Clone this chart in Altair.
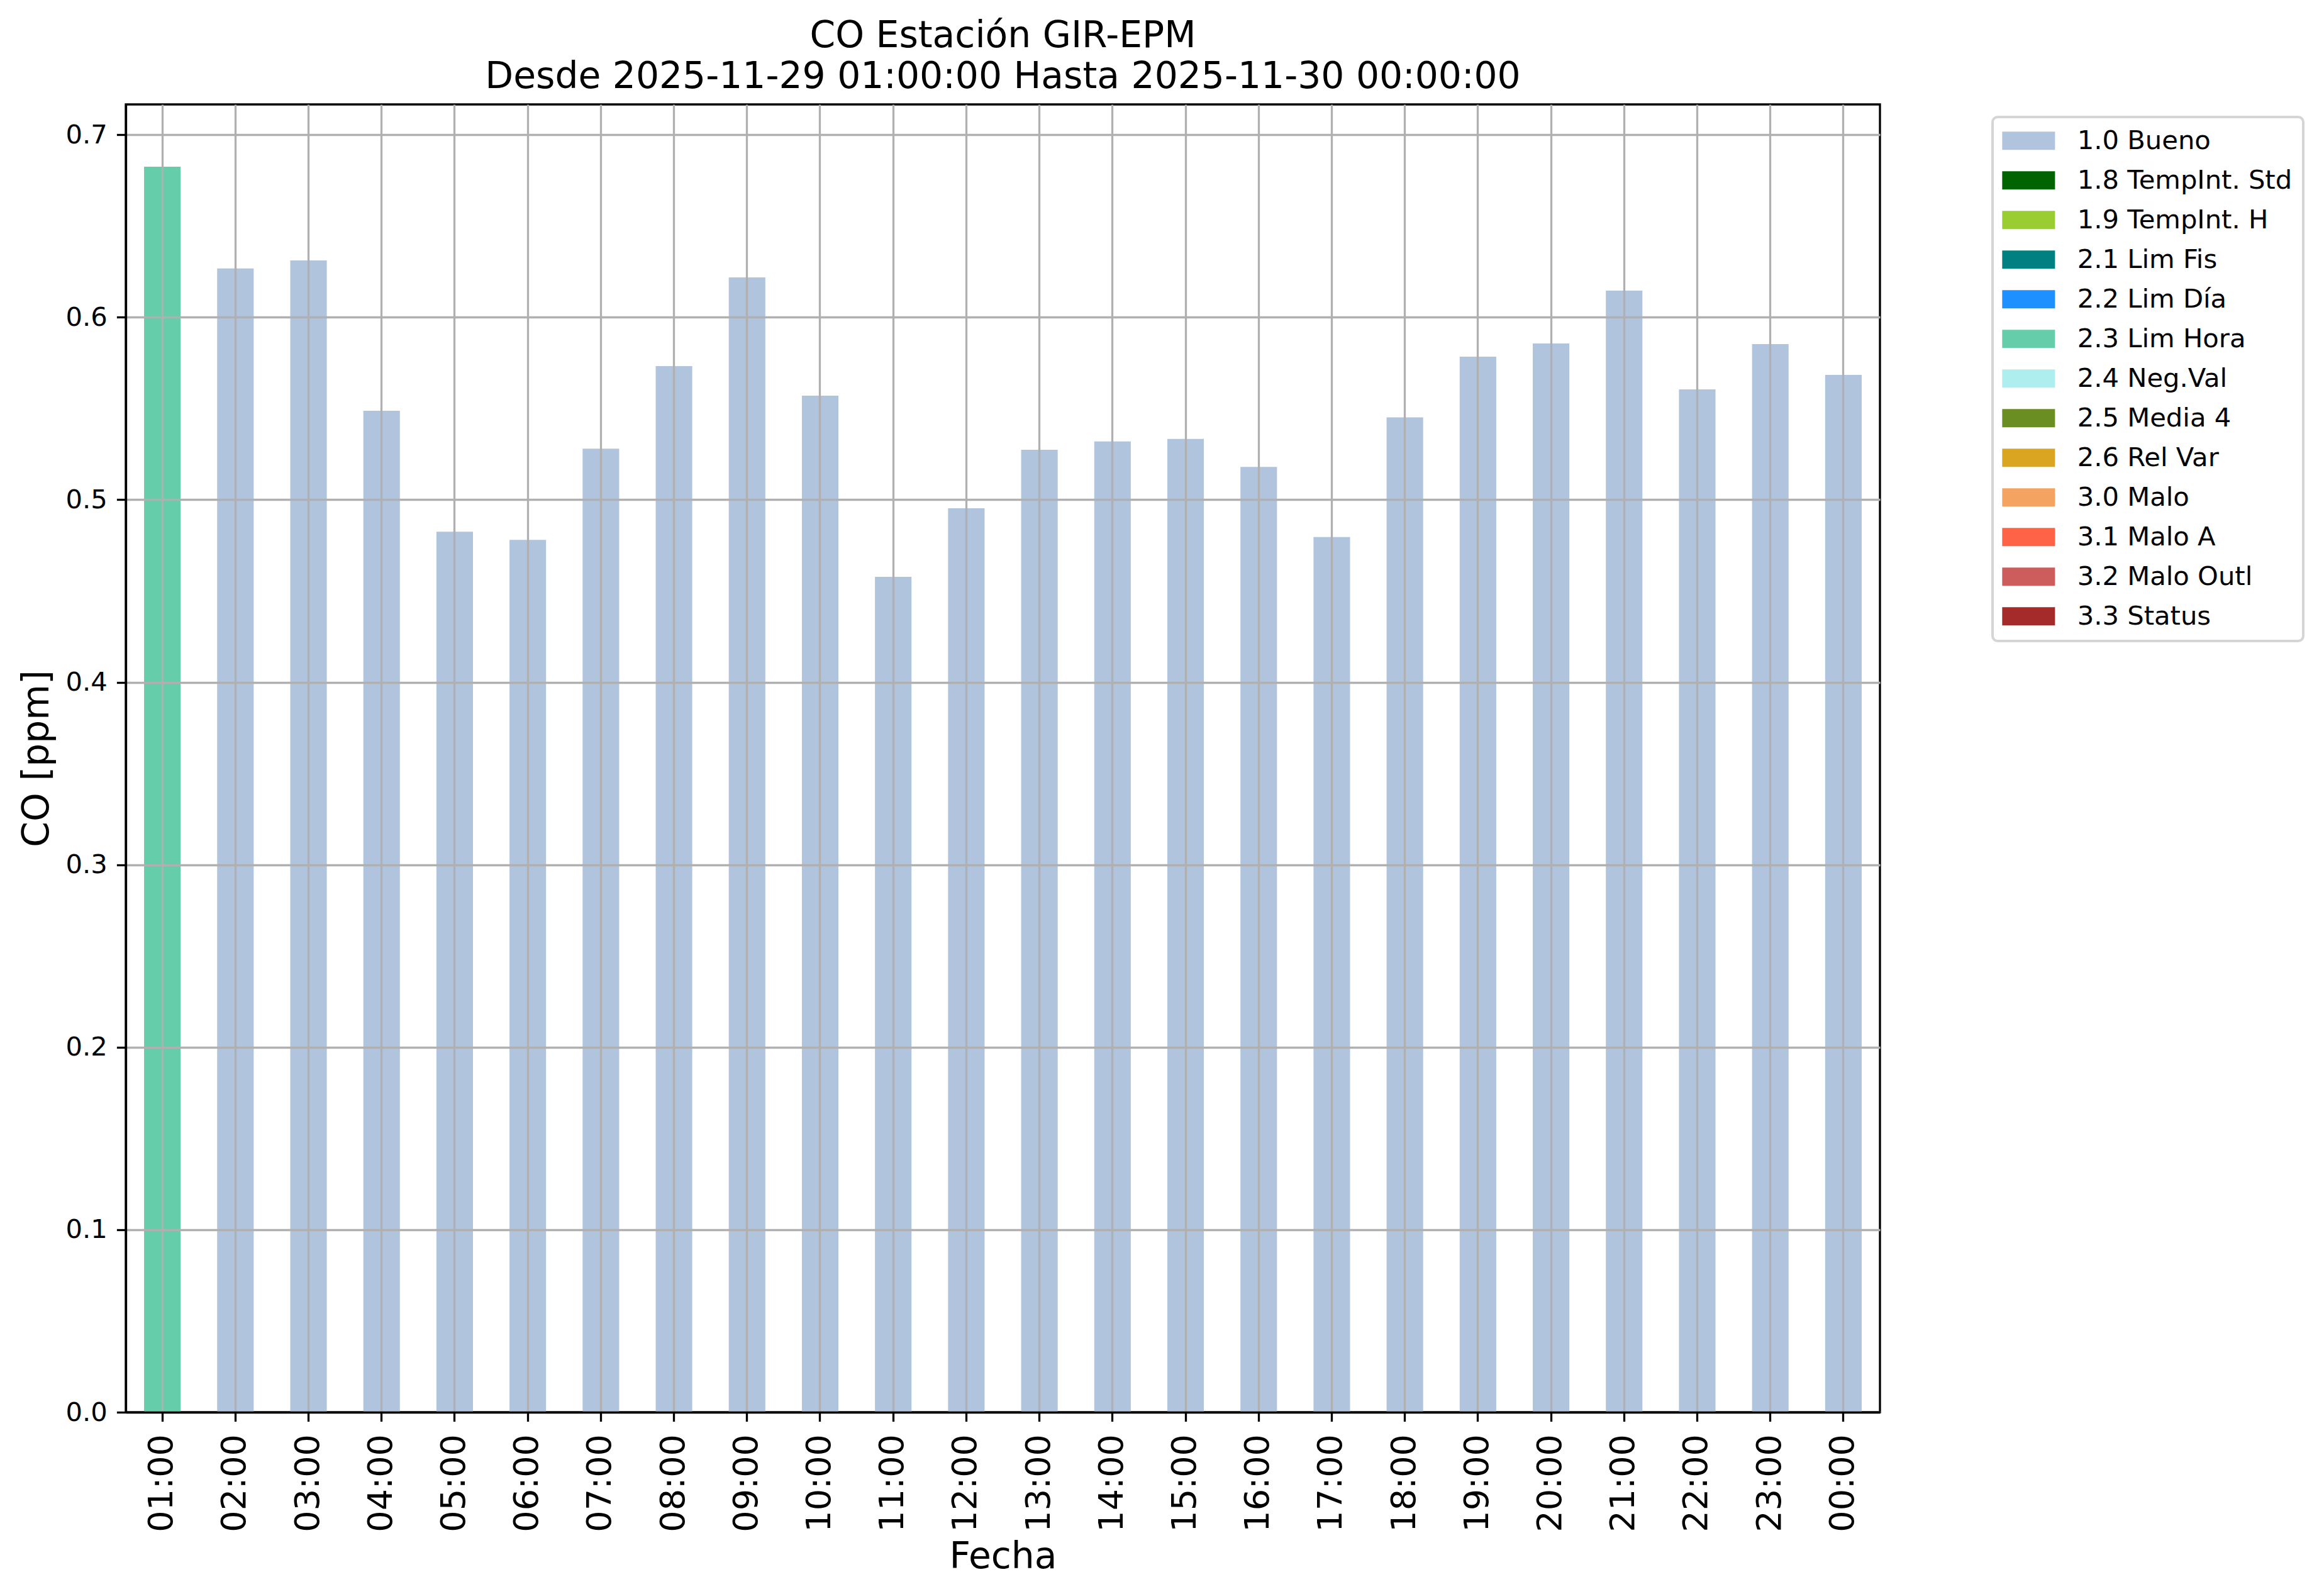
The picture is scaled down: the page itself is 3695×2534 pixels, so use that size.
import altair as alt
import pandas as pd

hours = ["01:00", "02:00", "03:00", "04:00", "05:00", "06:00", "07:00", "08:00",
         "09:00", "10:00", "11:00", "12:00", "13:00", "14:00", "15:00", "16:00",
         "17:00", "18:00", "19:00", "20:00", "21:00", "22:00", "23:00", "00:00"]
co_ppm = [0.6825, 0.6267, 0.6311, 0.5487, 0.4825, 0.4780, 0.5280, 0.5732,
          0.6218, 0.5570, 0.4577, 0.4953, 0.5274, 0.5319, 0.5333, 0.5180,
          0.4795, 0.5451, 0.5784, 0.5856, 0.6146, 0.5605, 0.5853, 0.5684]
flags = ["2.3 Lim Hora"] + ["1.0 Bueno"] * 23

flag_labels = ["1.0 Bueno", "1.8 TempInt. Std", "1.9 TempInt. H", "2.1 Lim Fis",
               "2.2 Lim Día", "2.3 Lim Hora", "2.4 Neg.Val", "2.5 Media 4",
               "2.6 Rel Var", "3.0 Malo", "3.1 Malo A", "3.2 Malo Outl", "3.3 Status"]
flag_colors = ["#B0C4DE", "#006400", "#9ACD32", "#008080", "#1E90FF", "#66CDAA",
               "#AFEEEE", "#6B8E23", "#DAA520", "#F4A460", "#FF6347", "#CD5C5C",
               "#A52A2A"]
y_ticks = [0.0, 0.1, 0.2, 0.3, 0.4, 0.5, 0.6, 0.7]
y_max = 0.7166

df = pd.DataFrame({"Fecha": hours, "CO": co_ppm, "Flag": flags})

FONT = "DejaVu Sans"
W, H = 2789, 2079

chart = alt.Chart(df).mark_bar().encode(
    x=alt.X("Fecha:N", sort=None,
            scale=alt.Scale(paddingInner=0.5, paddingOuter=0.25),
            axis=alt.Axis(title="Fecha", grid=True, bandPosition=0.5, zindex=1,
                          labelAngle=270, labelFontSize=54, labelPadding=20,
                          titleFontSize=58.3, titleX=W / 2, titleY=247,
                          titleAlign="center", titleBaseline="alphabetic")),
    y=alt.Y("CO:Q",
            scale=alt.Scale(domain=[0, y_max], nice=False, zero=True),
            axis=alt.Axis(title="CO [ppm]", values=y_ticks, format=".1f", zindex=1,
                          labelFontSize=41.7, labelPadding=15,
                          titleFontSize=58.3, titleAngle=270,
                          titleX=-124, titleY=H / 2, titleAlign="center",
                          titleBaseline="alphabetic")),
    color=alt.Color("Flag:N",
                    scale=alt.Scale(domain=flag_labels, range=flag_colors),
                    legend=alt.Legend(
                        title=None, orient="none", legendX=2968, legendY=20,
                        symbolType="M-1.552,-1L4.241,-1L4.241,1L-1.552,1Z",
                        symbolSize=841, symbolStrokeWidth=0, symbolOpacity=1,
                        labelFont=FONT, labelFontSize=41.7, labelColor="black",
                        labelOffset=76, rowPadding=20, padding=17,
                        fillColor="white", strokeColor="#d5d5d5",
                        cornerRadius=8, labelLimit=1000)),
).properties(
    width=W, height=H,
    title=alt.TitleParams(
        text=["CO Estación GIR-EPM",
              "Desde 2025-11-29 01:00:00 Hasta 2025-11-30 00:00:00"],
        font=FONT, fontSize=58.3, fontWeight="normal", color="black",
        lineHeight=65, anchor="middle", offset=14),
    autosize=alt.AutoSizeParams(type="none"),
    padding={"left": 192, "top": 158, "right": 690, "bottom": 280},
).configure_view(
    stroke="black", strokeWidth=3.3
).configure_axis(
    labelFont=FONT, titleFont=FONT, labelColor="black", titleColor="black",
    titleFontWeight="normal",
    gridColor="#b0b0b0", gridWidth=3.3, gridOpacity=1,
    domainColor="black", domainWidth=3.3,
    tickColor="black", tickWidth=3.3, tickSize=14.6,
).configure_legend(
    strokeWidth=4
)

chart.save("out.html", embed_options={"renderer": "svg", "actions": False})
